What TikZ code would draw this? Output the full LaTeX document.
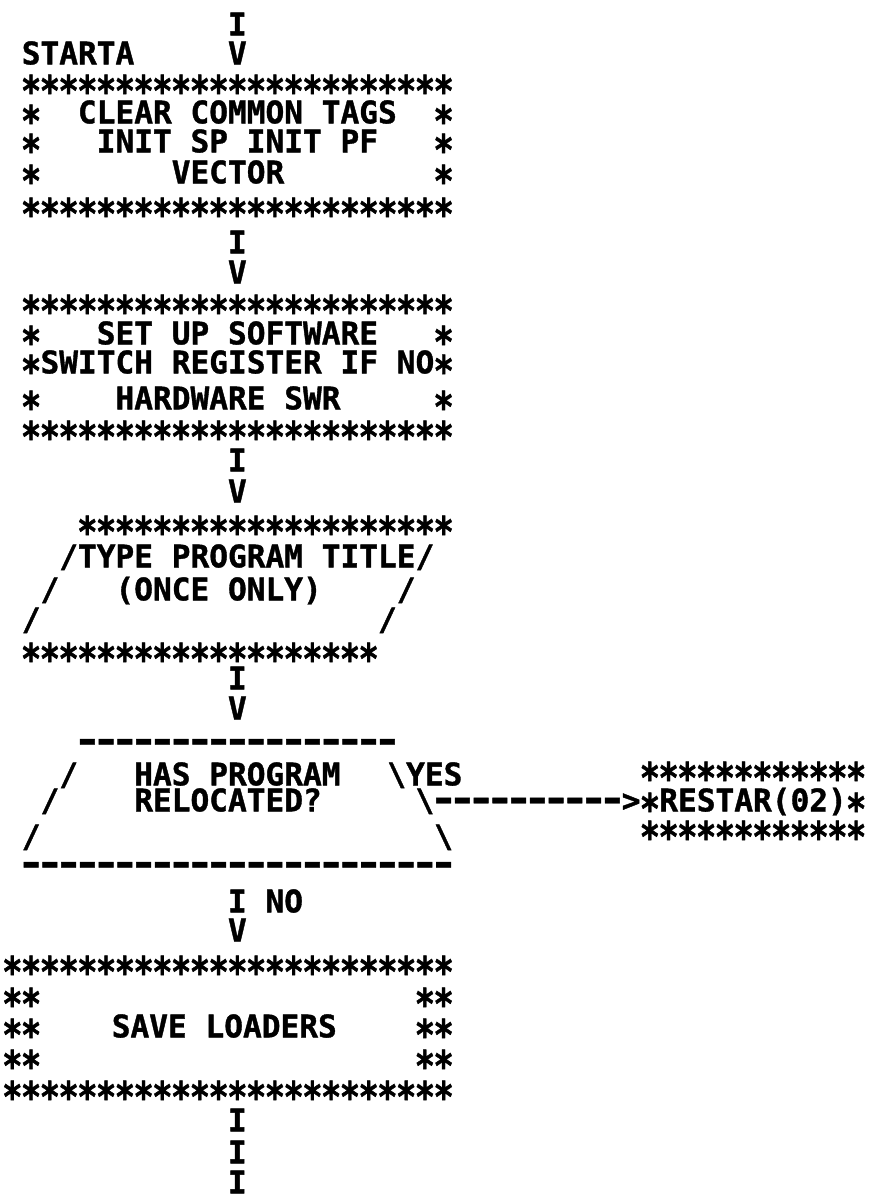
\documentclass[tikz,border=0pt]{standalone}
\usepackage{fontspec}
\newfontfamily\dmono{DejaVu Sans Mono}[BoldFeatures={FakeBold=1.2}]
\newcommand\asc{\dmono\bfseries\fontsize{31.15}{31.15}\selectfont}
\newcommand\sg{\makebox[0.602em]{\raisebox{-0.40em}{\scalebox{1.08}[1.35]{*}}}}
\newcommand\st[1]{\foreach\i in {1,...,#1}{\sg}}
\newcommand\dg{\makebox[0.602em]{\scalebox{1.5}[1.2]{-}}}
\newcommand\dsh[1]{\foreach\i in {1,...,#1}{\dg}}
\tikzset{row/.style={anchor=base west, inner sep=0pt, outer sep=0pt, text height=22pt, text depth=0pt, font=\asc}}
\newcommand\R[4]{\node[row] (#1) at ({3+#2*18.75},{#3+11.35}) {#4};}
\newcommand\D[4]{\node[row] (#1) at ({3+#2*18.75},{#3+8.6}) {#4};}
\begin{document}
\begin{tikzpicture}[x=1pt,y=-1pt]
\fill[white] (0,0) rectangle (871,1198);
\useasboundingbox (0,0) rectangle (871,1198);
% start
\R{r1}{12}{24}{I}
\R{r2a}{1}{53}{STARTA}
\R{r2b}{12}{53}{V}
% box 1
\R{r3}{1}{82}{\st{23}}
\R{r4a}{1}{112}{\st{1}}
\R{r4b}{4}{112}{CLEAR COMMON TAGS}
\R{r4c}{23}{112}{\st{1}}
\R{r5a}{1}{141}{\st{1}}
\R{r5b}{5}{141}{INIT SP INIT PF}
\R{r5c}{23}{141}{\st{1}}
\R{r6a}{1}{172}{\st{1}}
\R{r6b}{9}{172}{VECTOR}
\R{r6c}{23}{172}{\st{1}}
\R{r7}{1}{205}{\st{23}}
\R{r8}{12}{242}{I}
\R{r9}{12}{272}{V}
% box 2
\R{r10}{1}{302}{\st{23}}
\R{r11a}{1}{333}{\st{1}}
\R{r11b}{5}{333}{SET UP SOFTWARE}
\R{r11c}{23}{333}{\st{1}}
\R{r12}{1}{362}{\sg SWITCH REGISTER IF NO\sg}
\R{r13a}{1}{398}{\st{1}}
\R{r13b}{6}{398}{HARDWARE SWR}
\R{r13c}{23}{398}{\st{1}}
\R{r14}{1}{428}{\st{23}}
\R{r15}{12}{460}{I}
\R{r16}{12}{491}{V}
% parallelogram
\R{r17}{4}{523}{\st{20}}
\R{r18}{3}{556}{/TYPE PROGRAM TITLE/}
\R{r19a}{2}{589}{/}
\R{r19b}{6}{589}{(ONCE ONLY)}
\R{r19c}{21}{589}{/}
\R{r20a}{1}{619}{/}
\R{r20b}{20}{619}{/}
\R{r21}{1}{650}{\st{19}}
\R{r22}{12}{678}{I}
\R{r23}{12}{708}{V}
% decision
\D{r24}{4}{744}{\dsh{17}}
\R{r25a}{3}{774}{/}
\R{r25b}{7}{774}{HAS PROGRAM}
\R{r25c}{20.5}{774}{\textbackslash YES}
\R{r25d}{34}{769}{\st{12}}
\R{r26a}{2}{800}{/}
\R{r26b}{7}{800}{RELOCATED?}
\R{r26c}{22}{800}{\textbackslash\dsh{10}>\sg RESTAR(02)\sg}
\R{r27a}{1}{836}{/}
\R{r27b}{23}{836}{\textbackslash}
\R{r27c}{34}{828}{\st{12}}
\D{r28}{1}{867}{\dsh{23}}
\R{r29}{12}{901}{I NO}
\R{r30}{12}{930}{V}
% box 3
\R{r31}{0}{963}{\st{24}}
\R{r32a}{0}{995}{\st{2}}
\R{r32b}{22}{995}{\st{2}}
\R{r33a}{0}{1026}{\st{2}}
\R{r33b}{5.8}{1026}{SAVE LOADERS}
\R{r33c}{22}{1026}{\st{2}}
\R{r34a}{0}{1057}{\st{2}}
\R{r34b}{22}{1057}{\st{2}}
\R{r35}{0}{1088}{\st{24}}
\R{r36}{12}{1120}{I}
\R{r37}{12}{1152}{I}
\R{r38}{12}{1182}{I}
\end{tikzpicture}
\end{document}
